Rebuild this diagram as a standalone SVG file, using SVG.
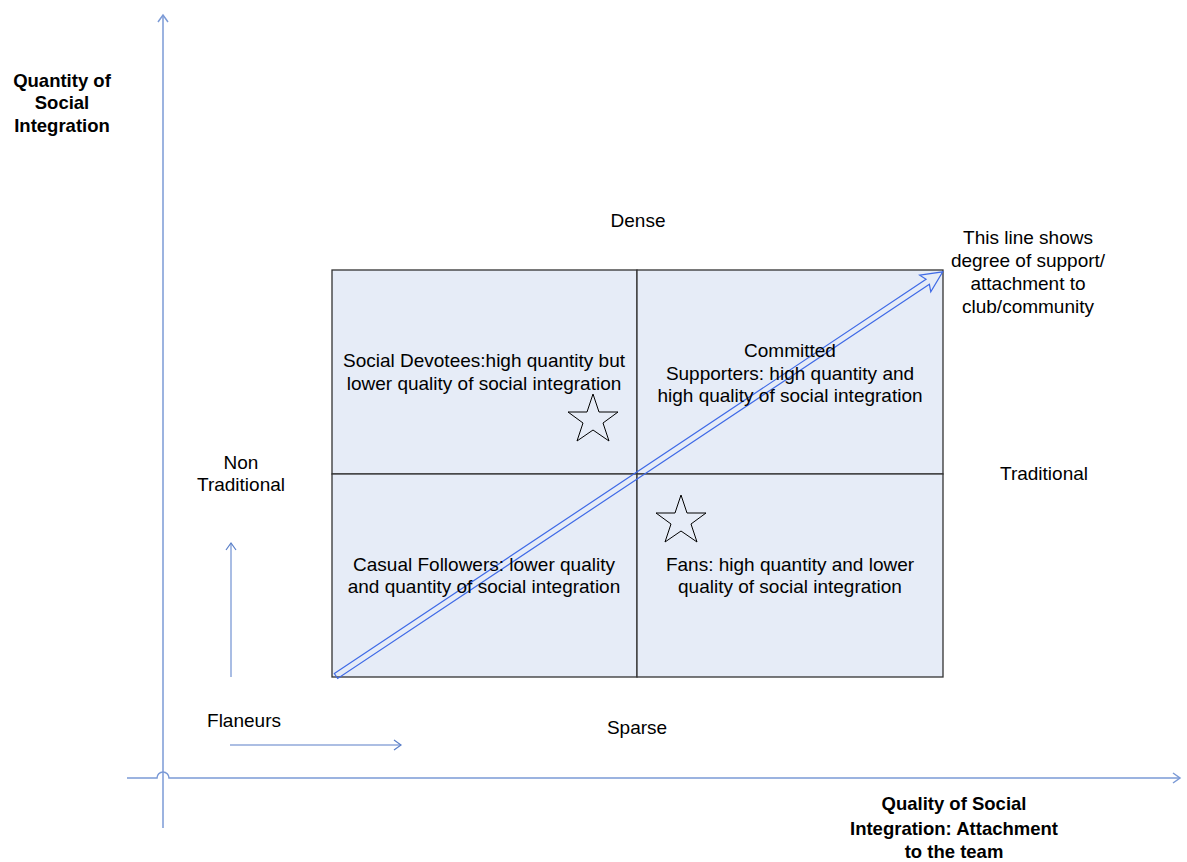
<svg xmlns="http://www.w3.org/2000/svg" width="1187" height="862" viewBox="0 0 1187 862">
<style>
text{font-family:"Liberation Sans",Arial,sans-serif;font-size:19px;fill:#000;text-anchor:middle}
.b{font-weight:bold;font-size:18.5px}
.ax{stroke:#7b9ad6;stroke-width:1.5;fill:none}
.cell{fill:#e6ecf7;stroke:#333;stroke-width:1.3}
.star{fill:none;stroke:#000;stroke-width:1}
</style>
<defs>
<marker id="ah" markerWidth="12" markerHeight="12" refX="10" refY="6" orient="auto" markerUnits="userSpaceOnUse">
<path d="M3,1 L10,6 L3,11" fill="none" stroke="#7b9ad6" stroke-width="1.5"/>
</marker>
<marker id="ah2" markerWidth="12" markerHeight="12" refX="10" refY="6" orient="auto" markerUnits="userSpaceOnUse">
<path d="M3,1 L10,6 L3,11" fill="none" stroke="#5a7fc8" stroke-width="1.2"/>
</marker>
</defs>
<g id="grid">
<rect id="q-tl" class="cell" x="332" y="270" width="305" height="204"/>
<rect id="q-tr" class="cell" x="637" y="270" width="306" height="204"/>
<rect id="q-bl" class="cell" x="332" y="474" width="305" height="203"/>
<rect id="q-br" class="cell" x="637" y="474" width="306" height="203"/>
</g>
<g id="connectors">
<path class="ax" d="M163,828 V15" marker-end="url(#ah)"/>
<path class="ax" d="M127,778 H157 A6,6 0 0 1 169,778 H1180" marker-end="url(#ah)"/>
<path d="M231,677 V543" stroke="#7b9ad6" stroke-width="1.3" fill="none" marker-end="url(#ah2)"/>
<path d="M230,745 H401" stroke="#5a7fc8" stroke-width="1.2" fill="none" marker-end="url(#ah2)"/>
<g transform="translate(336,676) rotate(-33.67)">
<polygon points="0,-3 711,-3 708,-10 729,0 708,10 711,3 0,3" fill="none" stroke="#3f6ae6" stroke-width="1.2"/>
</g>
</g>
<g id="stars">
<polygon class="star" points="593,394 599,412 618,412 603,423 609,441 593,430 577,441 583,423 568,412 587,412"/>
<polygon class="star" points="681,495 687,513 706,513 691,524 697,542 681,531 665,542 671,524 656,513 675,513"/>
</g>
<g id="labels">
<text class="b" x="62" y="87">Quantity of</text>
<text class="b" x="62" y="109">Social</text>
<text class="b" x="62" y="132">Integration</text>
<text x="638" y="227">Dense</text>
<text x="1028" y="244">This line shows</text>
<text x="1028" y="267">degree of support/</text>
<text x="1028" y="290">attachment to</text>
<text x="1028" y="313">club/community</text>
<text x="484" y="367">Social Devotees:high quantity but</text>
<text x="484" y="390">lower quality of social integration</text>
<text x="790" y="357">Committed</text>
<text x="790" y="380">Supporters: high quantity and</text>
<text x="790" y="402">high quality of social integration</text>
<text x="241" y="469">Non</text>
<text x="241" y="491">Traditional</text>
<text x="1044" y="480">Traditional</text>
<text x="484" y="571">Casual Followers: lower quality</text>
<text x="484" y="593">and quantity of social integration</text>
<text x="790" y="571">Fans: high quantity and lower</text>
<text x="790" y="593">quality of social integration</text>
<text x="244" y="727">Flaneurs</text>
<text x="637" y="734">Sparse</text>
<text class="b" x="954" y="810">Quality of Social</text>
<text class="b" x="954" y="835">Integration: Attachment</text>
<text class="b" x="954" y="858">to the team</text>
</g>
</svg>
